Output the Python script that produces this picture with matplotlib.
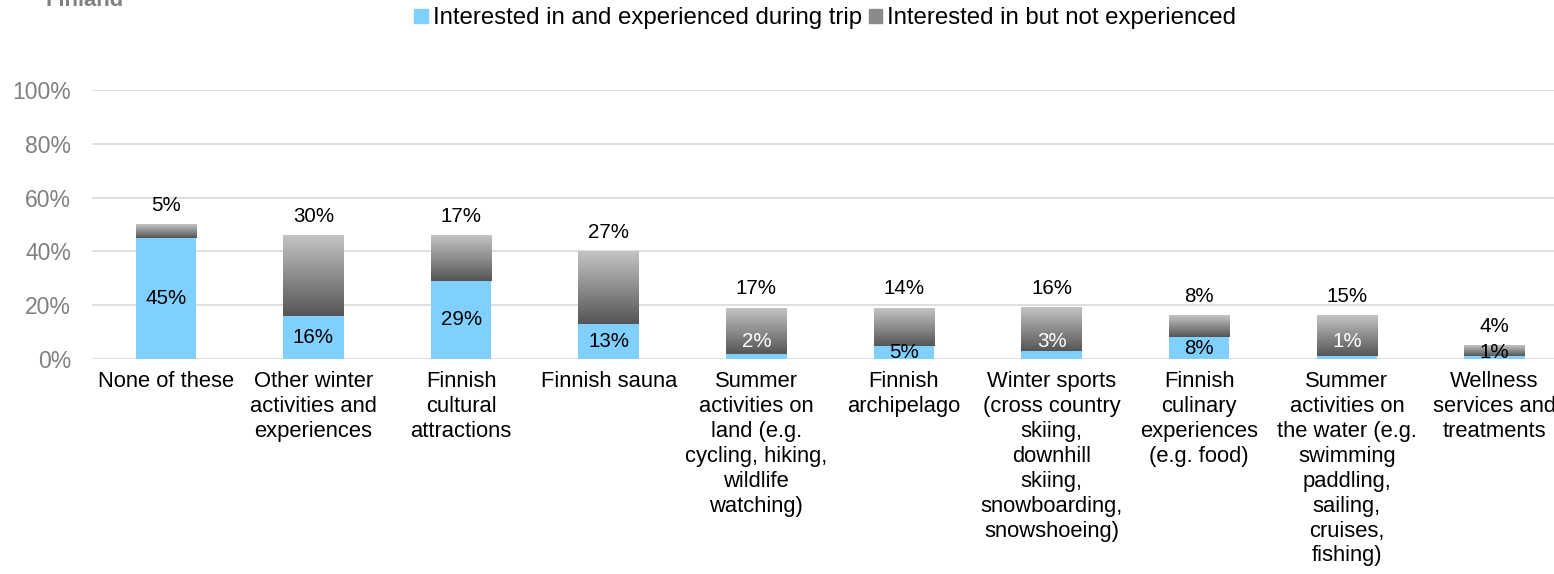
import numpy as np
import matplotlib.pyplot as plt
from matplotlib.patches import Patch
from matplotlib.colors import LinearSegmentedColormap

plt.rcParams["font.family"] = ["Liberation Sans", "DejaVu Sans"]

categories = [
    "None of these",
    "Other winter\nactivities and\nexperiences",
    "Finnish\ncultural\nattractions",
    "Finnish sauna",
    "Summer\nactivities on\nland (e.g.\ncycling, hiking,\nwildlife\nwatching)",
    "Finnish\narchipelago",
    "Winter sports\n(cross country\nskiing,\ndownhill\nskiing,\nsnowboarding,\nsnowshoeing)",
    "Finnish\nculinary\nexperiences\n(e.g. food)",
    "Summer\nactivities on\nthe water (e.g.\nswimming\npaddling,\nsailing,\ncruises,\nfishing)",
    "Wellness\nservices and\ntreatments",
]
experienced = [45, 16, 29, 13, 2, 5, 3, 8, 1, 1]
not_experienced = [5, 30, 17, 27, 17, 14, 16, 8, 15, 4]
legend_labels = ["Interested in and experienced during trip",
                 "Interested in but not experienced"]

BLUE = "#80D0FF"
FS = 15.8

fig = plt.figure(figsize=(15.54, 5.74), dpi=100)
ax = fig.add_axes([0.0592, 0.3746, 0.95, 0.4686])

x = np.arange(len(categories))
w = 0.41

ax.bar(x, experienced, width=w, color=BLUE, zorder=3)

# grey segment drawn as a vertical gradient, light at top, dark at bottom
grad = np.linspace(0, 1, 256).reshape(-1, 1)
cmap = LinearSegmentedColormap.from_list("g", ["#555555", "#c4c4c4"])
for xi, e, n in zip(x, experienced, not_experienced):
    ax.imshow(grad, cmap=cmap, origin="lower", aspect="auto",
              extent=(xi - w / 2, xi + w / 2, e, e + n), zorder=3)

ax.set_xlim(-0.5, 9.5)
ax.set_ylim(0, 100)
ax.set_yticks(range(0, 101, 20))
ax.set_yticklabels([f"{v}%" for v in range(0, 101, 20)], color="#808080", fontsize=16.5)
ax.set_xticks(x)
ax.set_xticklabels(categories, fontsize=FS, linespacing=1.24)
ax.tick_params(axis="both", length=0)
ax.tick_params(axis="x", pad=9)
ax.tick_params(axis="y", pad=15)
ax.grid(axis="y", color="#d9d9d9", linewidth=1.2, zorder=0)
for s in ax.spines.values():
    s.set_visible(False)

# value labels
for xi, e, n in zip(x, experienced, not_experienced):
    ax.annotate(f"{n}%", (xi, e + n), xytext=(0, 7), textcoords="offset points",
                ha="center", va="bottom", fontsize=FS - 1)
    total = e + n
    if e <= 3 and total >= 10:
        ax.text(xi, 6.5, f"{e}%", ha="center", va="center", color="white",
                fontsize=FS - 1, zorder=4)
    else:
        ax.text(xi, e / 2 if e >= 5 else total / 2, f"{e}%", ha="center",
                va="center", color="black", fontsize=FS - 1, zorder=4)

handles = [Patch(color=BLUE), Patch(color="#8a8a8a")]
fig.legend(handles, legend_labels, loc="center", bbox_to_anchor=(0.531, 0.968),
           ncol=2, frameon=False, fontsize=17.3, handlelength=0.55, handleheight=0.55,
           handletextpad=0.2, columnspacing=0.3)

fig.text(0.029, 1.0, "Finland", color="#808080", fontweight="bold", fontsize=FS,
         va="center", ha="left")

fig.savefig("out.png", dpi=100)
